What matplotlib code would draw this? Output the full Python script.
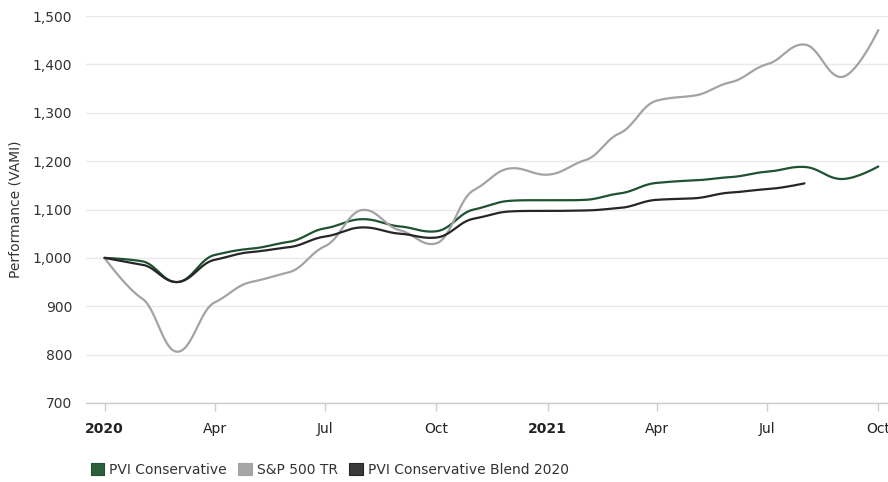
import numpy as np
import pandas as pd
import matplotlib
matplotlib.use("Agg")
import matplotlib.pyplot as plt
import matplotlib.dates as mdates
from matplotlib.patches import Patch

# month-start dates, Jan 2020 .. Oct 2021
dates = pd.date_range("2020-01-01", "2021-10-01", freq="MS")

pvi_conservative = [1000, 993, 950, 1006, 1019, 1033, 1061, 1080, 1065, 1055, 1100,
                    1118, 1119, 1120, 1133, 1155, 1160, 1167, 1178, 1188, 1163, 1189]
sp500_tr = [1000, 916, 806, 908, 950, 970, 1024, 1099, 1057, 1030, 1140,
            1185, 1172, 1202, 1257, 1325, 1335, 1363, 1400, 1441, 1374, 1471]
pvi_blend_2020 = [1000, 986, 950, 996, 1012, 1022, 1044, 1063, 1050, 1042, 1081,
                  1096, 1097, 1098, 1103, 1120, 1123, 1135, 1142, 1154]

series_names = ["PVI Conservative", "S&P 500 TR", "PVI Conservative Blend 2020"]
series_colors = ["#1e5230", "#a3a3a3", "#262626"]
legend_colors = ["#2b5e3b", "#a6a6a6", "#3a3a3a"]
x_ticks = ["2020-01-01", "2020-04-01", "2020-07-01", "2020-10-01",
           "2021-01-01", "2021-04-01", "2021-07-01", "2021-10-01"]
x_labels = ["2020", "Apr", "Jul", "Oct", "2021", "Apr", "Jul", "Oct"]


def spline(x, y, k=0.5, hand=0.4, n=30):
    # bezier smoothing through every point (handles along a damped tangent)
    x = np.asarray(x, float)
    y = np.asarray(y, float)
    m = np.zeros(len(x))
    for i in range(1, len(x) - 1):
        m[i] = k * (y[i + 1] - y[i - 1]) / (x[i + 1] - x[i - 1])
    xs, ys = [], []
    t = np.linspace(0, 1, n)
    for i in range(len(x) - 1):
        h = x[i + 1] - x[i]
        h0 = 0 if i == 0 else hand * h
        h1 = 0 if i == len(x) - 2 else hand * h
        p0 = (x[i], y[i])
        p1 = (x[i] + h0, y[i] + m[i] * h0)
        p2 = (x[i + 1] - h1, y[i + 1] - m[i + 1] * h1)
        p3 = (x[i + 1], y[i + 1])
        b = [(1 - t) ** 3, 3 * (1 - t) ** 2 * t, 3 * (1 - t) * t ** 2, t ** 3]
        xs.append(sum(b[j] * (p0, p1, p2, p3)[j][0] for j in range(4)))
        ys.append(sum(b[j] * (p0, p1, p2, p3)[j][1] for j in range(4)))
    return np.concatenate(xs), np.concatenate(ys)


plt.rcParams["font.family"] = ["DejaVu Sans"]

fig = plt.figure(figsize=(8.88, 4.82), dpi=100)
ax = fig.add_axes([86 / 888, 79 / 482, 802 / 888, 387 / 482])

xnum = mdates.date2num(dates)
for vals, col in zip([pvi_conservative, sp500_tr, pvi_blend_2020], series_colors):
    sx, sy = spline(xnum[:len(vals)], vals)
    ax.plot(sx, sy, color=col, lw=1.6, solid_capstyle="round", zorder=3)

x0 = mdates.date2num(pd.Timestamp("2020-01-01"))
x1 = mdates.date2num(pd.Timestamp("2021-10-01"))
ppd = (878.3 - 104.5) / (x1 - x0)
ax.set_xlim(x0 - (104.5 - 86) / ppd, x0 + (888 - 104.5) / ppd)
ax.set_ylim(700, 1500)

ax.set_yticks(range(700, 1501, 100))
ax.yaxis.set_major_formatter(matplotlib.ticker.FuncFormatter(lambda v, p: f"{int(v):,}"))
ax.set_xticks(mdates.date2num(pd.to_datetime(x_ticks)), x_labels)
for lab in ax.get_xticklabels():
    if lab.get_text() in ("2020", "2021"):
        lab.set_fontweight("bold")

ax.grid(axis="y", color="#e9e9e9", lw=1)
ax.set_axisbelow(True)
for s in ["top", "right", "left"]:
    ax.spines[s].set_visible(False)
ax.spines["bottom"].set_color("#cccccc")
ax.spines["bottom"].set_linewidth(1)
ax.tick_params(axis="x", colors="#cccccc", length=6, width=1, pad=8, labelcolor="#222222",
               labelsize=10)
ax.tick_params(axis="y", length=0, pad=10, labelcolor="#333333", labelsize=10)
ax.set_ylabel("Performance (VAMI)", fontsize=10, color="#333333", labelpad=7)

handles = [Patch(facecolor=fc, edgecolor=ec, lw=0.8)
           for fc, ec in zip(legend_colors, series_colors)]
fig.legend(handles, series_names, loc="center left", bbox_to_anchor=(78 / 888, 1 - 470 / 482),
           ncol=3, frameon=False, fontsize=10, handlelength=1.0, handleheight=1.0,
           handletextpad=0.35, columnspacing=0.8, labelcolor="#333333")

fig.savefig("out.png", dpi=100)
